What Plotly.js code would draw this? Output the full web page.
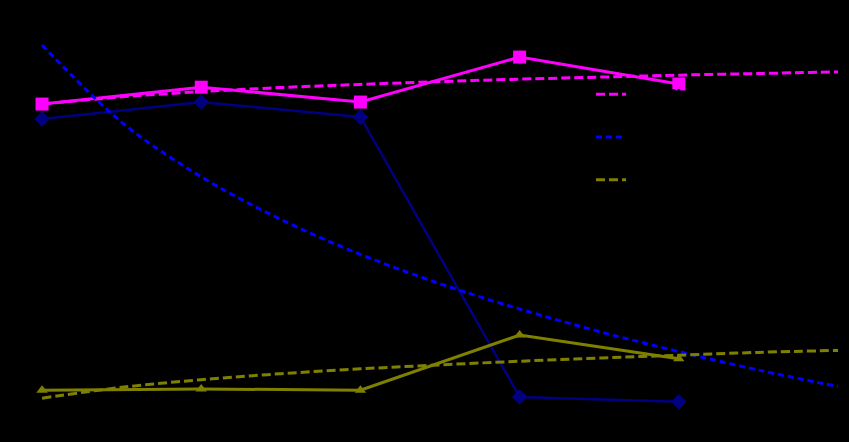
<!DOCTYPE html>
<html>
<head>
<meta charset="utf-8">
<script src="https://cdn.plot.ly/plotly-3.0.1.min.js"></script>
<style>html,body{margin:0;padding:0;background:#000;}#chart{width:849px;height:442px;}</style>
</head>
<body>
<div id="chart"></div>
<script>
// Data series (x = category position 1..5)
const xData = [1, 2, 3, 4, 5];
const series1 = [84.1, 88.3, 84.6, 95.8, 89.1];   // magenta squares
const series2 = [80.4, 84.6, 80.9, 11.2, 10.0];   // navy diamonds
const series3 = [12.9, 13.2, 12.9, 26.6, 20.7];   // olive triangles

// Logarithmic trendlines (extend one period forward)
const xTrend = [1, 1.5, 2, 2.5, 3, 3.5, 4, 4.5, 5, 5.5, 6];
const trend1 = [84.1, 85.9, 87.2, 88.2, 89.0, 89.7, 90.3, 90.8, 91.3, 91.7, 92.1];
const trend2 = [98.8, 79.6, 66.0, 55.4, 46.7, 39.4, 33.1, 27.5, 22.5, 17.9, 13.8];
const trend3 = [10.9, 13.6, 15.5, 17.0, 18.2, 19.2, 20.1, 20.9, 21.6, 22.3, 22.8];

const names = ["Series1", "Series2", "Series3"];
const trendNames = ["Log. (Series1)", "Log. (Series2)", "Log. (Series3)"];

const traces = [
  {x: xData, y: series1, name: names[0], mode: 'lines+markers', showlegend: false,
   line: {color: '#FF00FF', width: 3}, marker: {symbol: 'square', size: 13, color: '#FF00FF'}},
  {x: xData, y: series2, name: names[1], mode: 'lines+markers', showlegend: false,
   line: {color: '#000080', width: 2.5}, marker: {symbol: 'diamond', size: 12, color: '#000080'}},
  {x: xData, y: series3, name: names[2], mode: 'lines+markers', showlegend: false,
   line: {color: '#808000', width: 3}, marker: {symbol: 'triangle-up', size: 10, color: '#808000'}},
  {x: xTrend, y: trend1, name: trendNames[0], mode: 'lines',
   line: {color: '#FF00FF', width: 3, dash: '9px,4px', shape: 'spline'}},
  {x: xTrend, y: trend2, name: trendNames[1], mode: 'lines',
   line: {color: '#0000FF', width: 3, dash: '6px,4px', shape: 'spline'}},
  {x: xTrend, y: trend3, name: trendNames[2], mode: 'lines',
   line: {color: '#808000', width: 3, dash: '9px,4px', shape: 'spline'}}
];

const layout = {
  width: 849, height: 442,
  paper_bgcolor: '#000000', plot_bgcolor: '#000000',
  margin: {l: 0, r: 0, t: 0, b: 0},
  xaxis: {range: [0.736, 6.069], showgrid: false, zeroline: false, showticklabels: false, showline: false, ticks: ''},
  yaxis: {range: [0, 110], showgrid: false, zeroline: false, showticklabels: false, showline: false, ticks: ''},
  showlegend: true,
  legend: {x: 591/849, y: 1 - 68/442, xanchor: 'left', yanchor: 'top',
           bgcolor: 'rgba(0,0,0,0)', font: {color: '#000000', size: 30.5, family: 'Liberation Sans'}},
  font: {color: '#000000'}
};

Plotly.newPlot('chart', traces, layout, {displayModeBar: false, staticPlot: true});
</script>
</body>
</html>
